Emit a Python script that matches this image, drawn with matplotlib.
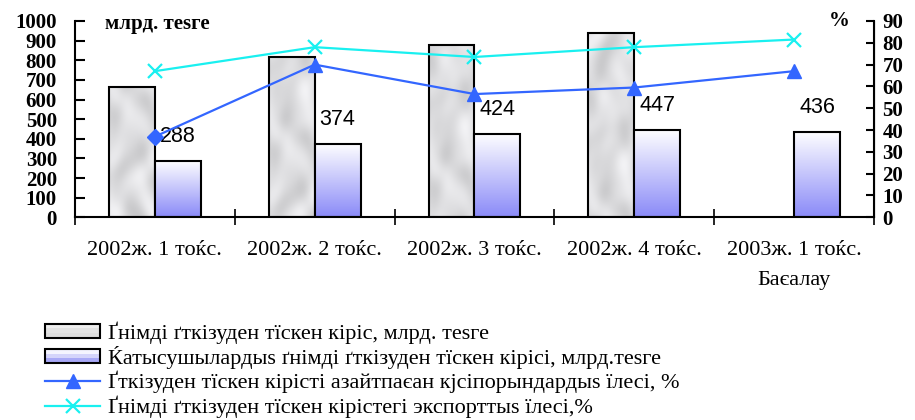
import numpy as np
import matplotlib
matplotlib.use("Agg")
import matplotlib.pyplot as plt
from matplotlib.patches import Rectangle
from matplotlib.legend_handler import HandlerBase
from matplotlib.lines import Line2D

categories = ["2002ж. 1 тоќс.", "2002ж. 2 тоќс.", "2002ж. 3 тоќс.", "2002ж. 4 тоќс.", "2003ж. 1 тоќс.\nБаєалау"]
revenue = [662, 815, 878, 937, np.nan]           # млрд. теѕге (grey bars)
participants_revenue = [288, 374, 424, 447, 436]  # млрд. теѕге (blue bars)
share_not_decreased = [37, 70, 56.5, 59.5, 67]    # %
share_export = [67, 78, 73.5, 78, 81.5]           # %

labels = [
    "Ґнімді ґткізуден тїскен кіріс, млрд. теѕге",
    "Ќатысушылардыѕ ґнімді ґткізуден тїскен кірісі, млрд.теѕге",
    "Ґткізуден тїскен кірісті азайтпаєан кјсіпорындардыѕ їлесі, %",
    "Ґнімді ґткізуден тїскен кірістегі экспорттыѕ їлесі,%",
]

SERIF = ["Liberation Serif", "DejaVu Serif"]
SANS = ["Liberation Sans", "DejaVu Sans"]

fig = plt.figure(figsize=(9.15, 4.2), dpi=100)
ax = fig.add_axes([75/915, 1-217.3/420, (874-75)/915, (217.3-21)/420])
ax2 = ax.twinx()

x = np.arange(len(categories))
w = 0.2875
BLUE_LINE = "#3366ff"
CYAN = "#19f0f0"

grey_bars = ax.bar(x - w/2, revenue, w, facecolor="none", edgecolor="black", linewidth=1.5, zorder=2)
blue_bars = ax.bar(x + w/2, participants_revenue, w, facecolor="none", edgecolor="black", linewidth=1.5, zorder=3)


def marble_texture(phase, nrows):
    yy, xx = np.mgrid[0:nrows, 0:46].astype(float)
    yy = yy + phase
    m = (0.87
         + 0.035*np.sin(xx/6.0 + 2.5*np.sin(yy/19.0))
         + 0.03*np.sin(yy/11.0 + 1.8*np.cos(xx/8.0))
         + 0.02*np.cos((xx - 0.6*yy)/9.0 + 1.3*np.sin(yy/13.0)))
    return np.dstack([m, m, m*1.01]).clip(0, 1)


for i, b in enumerate(grey_bars):
    h = b.get_height()
    if not np.isfinite(h):
        continue
    img = marble_texture(37.0*i, int(round(h*0.196)))
    im = ax.imshow(img, extent=[b.get_x(), b.get_x()+b.get_width(), 0, h],
                   aspect="auto", zorder=1.9, origin="lower", interpolation="bilinear")
    im.set_clip_path(b)

top = np.array([1.0, 1.0, 1.0])
bot = np.array([0x8a/255, 0x8a/255, 0xf8/255])
t = np.linspace(0, 1, 256)[:, None]
grad = (bot*(1-t) + top*t)[:, None, :]
for b in blue_bars:
    h = b.get_height()
    im = ax.imshow(grad, extent=[b.get_x(), b.get_x()+b.get_width(), 0, h],
                   aspect="auto", zorder=2.5, origin="lower")
    im.set_clip_path(b)

for b, v in zip(blue_bars, participants_revenue):
    ax.annotate(f"{v}", (b.get_x()+b.get_width()/2, b.get_height()), xytext=(0, 13.7),
                textcoords="offset points", ha="center", va="baseline",
                fontsize=15.5, family=SANS, zorder=6)

# lines on secondary axis
ax2.plot(x, share_export, color=CYAN, lw=1.6, marker="x", ms=10, mew=1.6, zorder=4)
ax2.plot(x, share_not_decreased, color=BLUE_LINE, lw=1.6, marker="^", ms=10,
         markevery=[1, 2, 3, 4], zorder=4)
ax2.plot(x[:1], share_not_decreased[:1], color=BLUE_LINE, marker="D", ms=8, ls="none", zorder=4)

ax.set_xlim(-0.5, len(categories)-0.5)
ax.set_ylim(0, 1000)
ax2.set_ylim(0, 90)
ax.set_yticks(np.arange(0, 1001, 100))
ax2.set_yticks(np.arange(0, 91, 10))
ax.set_xticks(np.arange(-0.5, len(categories)), minor=False)
ax.set_xticklabels([""]*(len(categories)+1))
ax.set_xticks(x, minor=True)
ax.set_xticklabels(categories, minor=True, family=SERIF, fontsize=16, linespacing=1.78)
ax.tick_params(axis="x", which="major", direction="inout", length=12, width=1.2)
ax.tick_params(axis="x", which="minor", length=0, pad=17)

for lab in ax.get_yticklabels():
    lab.set_family(SERIF); lab.set_fontweight("bold"); lab.set_fontsize(15)
for lab in ax2.get_yticklabels():
    lab.set_family(SERIF); lab.set_fontweight("bold"); lab.set_fontsize(15)
ax.tick_params(axis="y", direction="in", length=7, width=1.5, pad=13)
ax2.tick_params(axis="y", direction="in", length=6, width=1.5, pad=6)

for a in (ax, ax2):
    a.spines["top"].set_visible(False)
ax.spines["left"].set_linewidth(1.5)
ax.spines["bottom"].set_linewidth(1.5)
ax2.spines["right"].set_linewidth(1.5)
ax2.spines["left"].set_visible(False)
ax2.spines["bottom"].set_visible(False)

ax.text(0.038, 0.985, "млрд. теѕге", transform=ax.transAxes, family=SERIF, fontweight="bold",
        fontsize=15, ha="left", va="center")
ax2.text(0.97, 1.0, "%", transform=ax2.transAxes, family=SERIF, fontweight="bold",
         fontsize=15, ha="right", va="center")

ax.set_zorder(1); ax2.set_zorder(2); ax2.patch.set_visible(False)


class GradHandler(HandlerBase):
    def __init__(self, colors):
        super().__init__()
        self.colors = colors

    def create_artists(self, legend, orig_handle, xdescent, ydescent, width, height, fontsize, trans):
        arts = []
        n = len(self.colors)
        for i, c in enumerate(self.colors):
            arts.append(Rectangle((-xdescent, -ydescent + height*(n-1-i)/n), width, height/n,
                                  facecolor=c, edgecolor="none", transform=trans))
        arts.append(Rectangle((-xdescent, -ydescent), width, height, facecolor="none",
                              edgecolor="black", linewidth=1.5, transform=trans))
        return arts


h1 = Rectangle((0, 0), 1, 1)
h2 = Rectangle((0, 0), 1, 1)
h3 = Line2D([], [], color=BLUE_LINE, lw=1.6, marker="^", ms=10)
h4 = Line2D([], [], color=CYAN, lw=1.6, marker="x", ms=10, mew=1.6)
fig.legend([h1, h2, h3, h4], labels,
           handler_map={h1: GradHandler(["#eeeeee", "#e2e2e2", "#dcdcdc"]),
                        h2: GradHandler(["#f4f4ff", "#d4d4fb", "#a8a8f6"])},
           loc="upper left", bbox_to_anchor=(45/915, 1-321/420), frameon=False,
           borderpad=0, borderaxespad=0, handlelength=2.48, handletextpad=0.36,
           handleheight=0.6, labelspacing=0.1, prop={"family": SERIF, "size": 16})

fig.savefig("out.png", dpi=100)
